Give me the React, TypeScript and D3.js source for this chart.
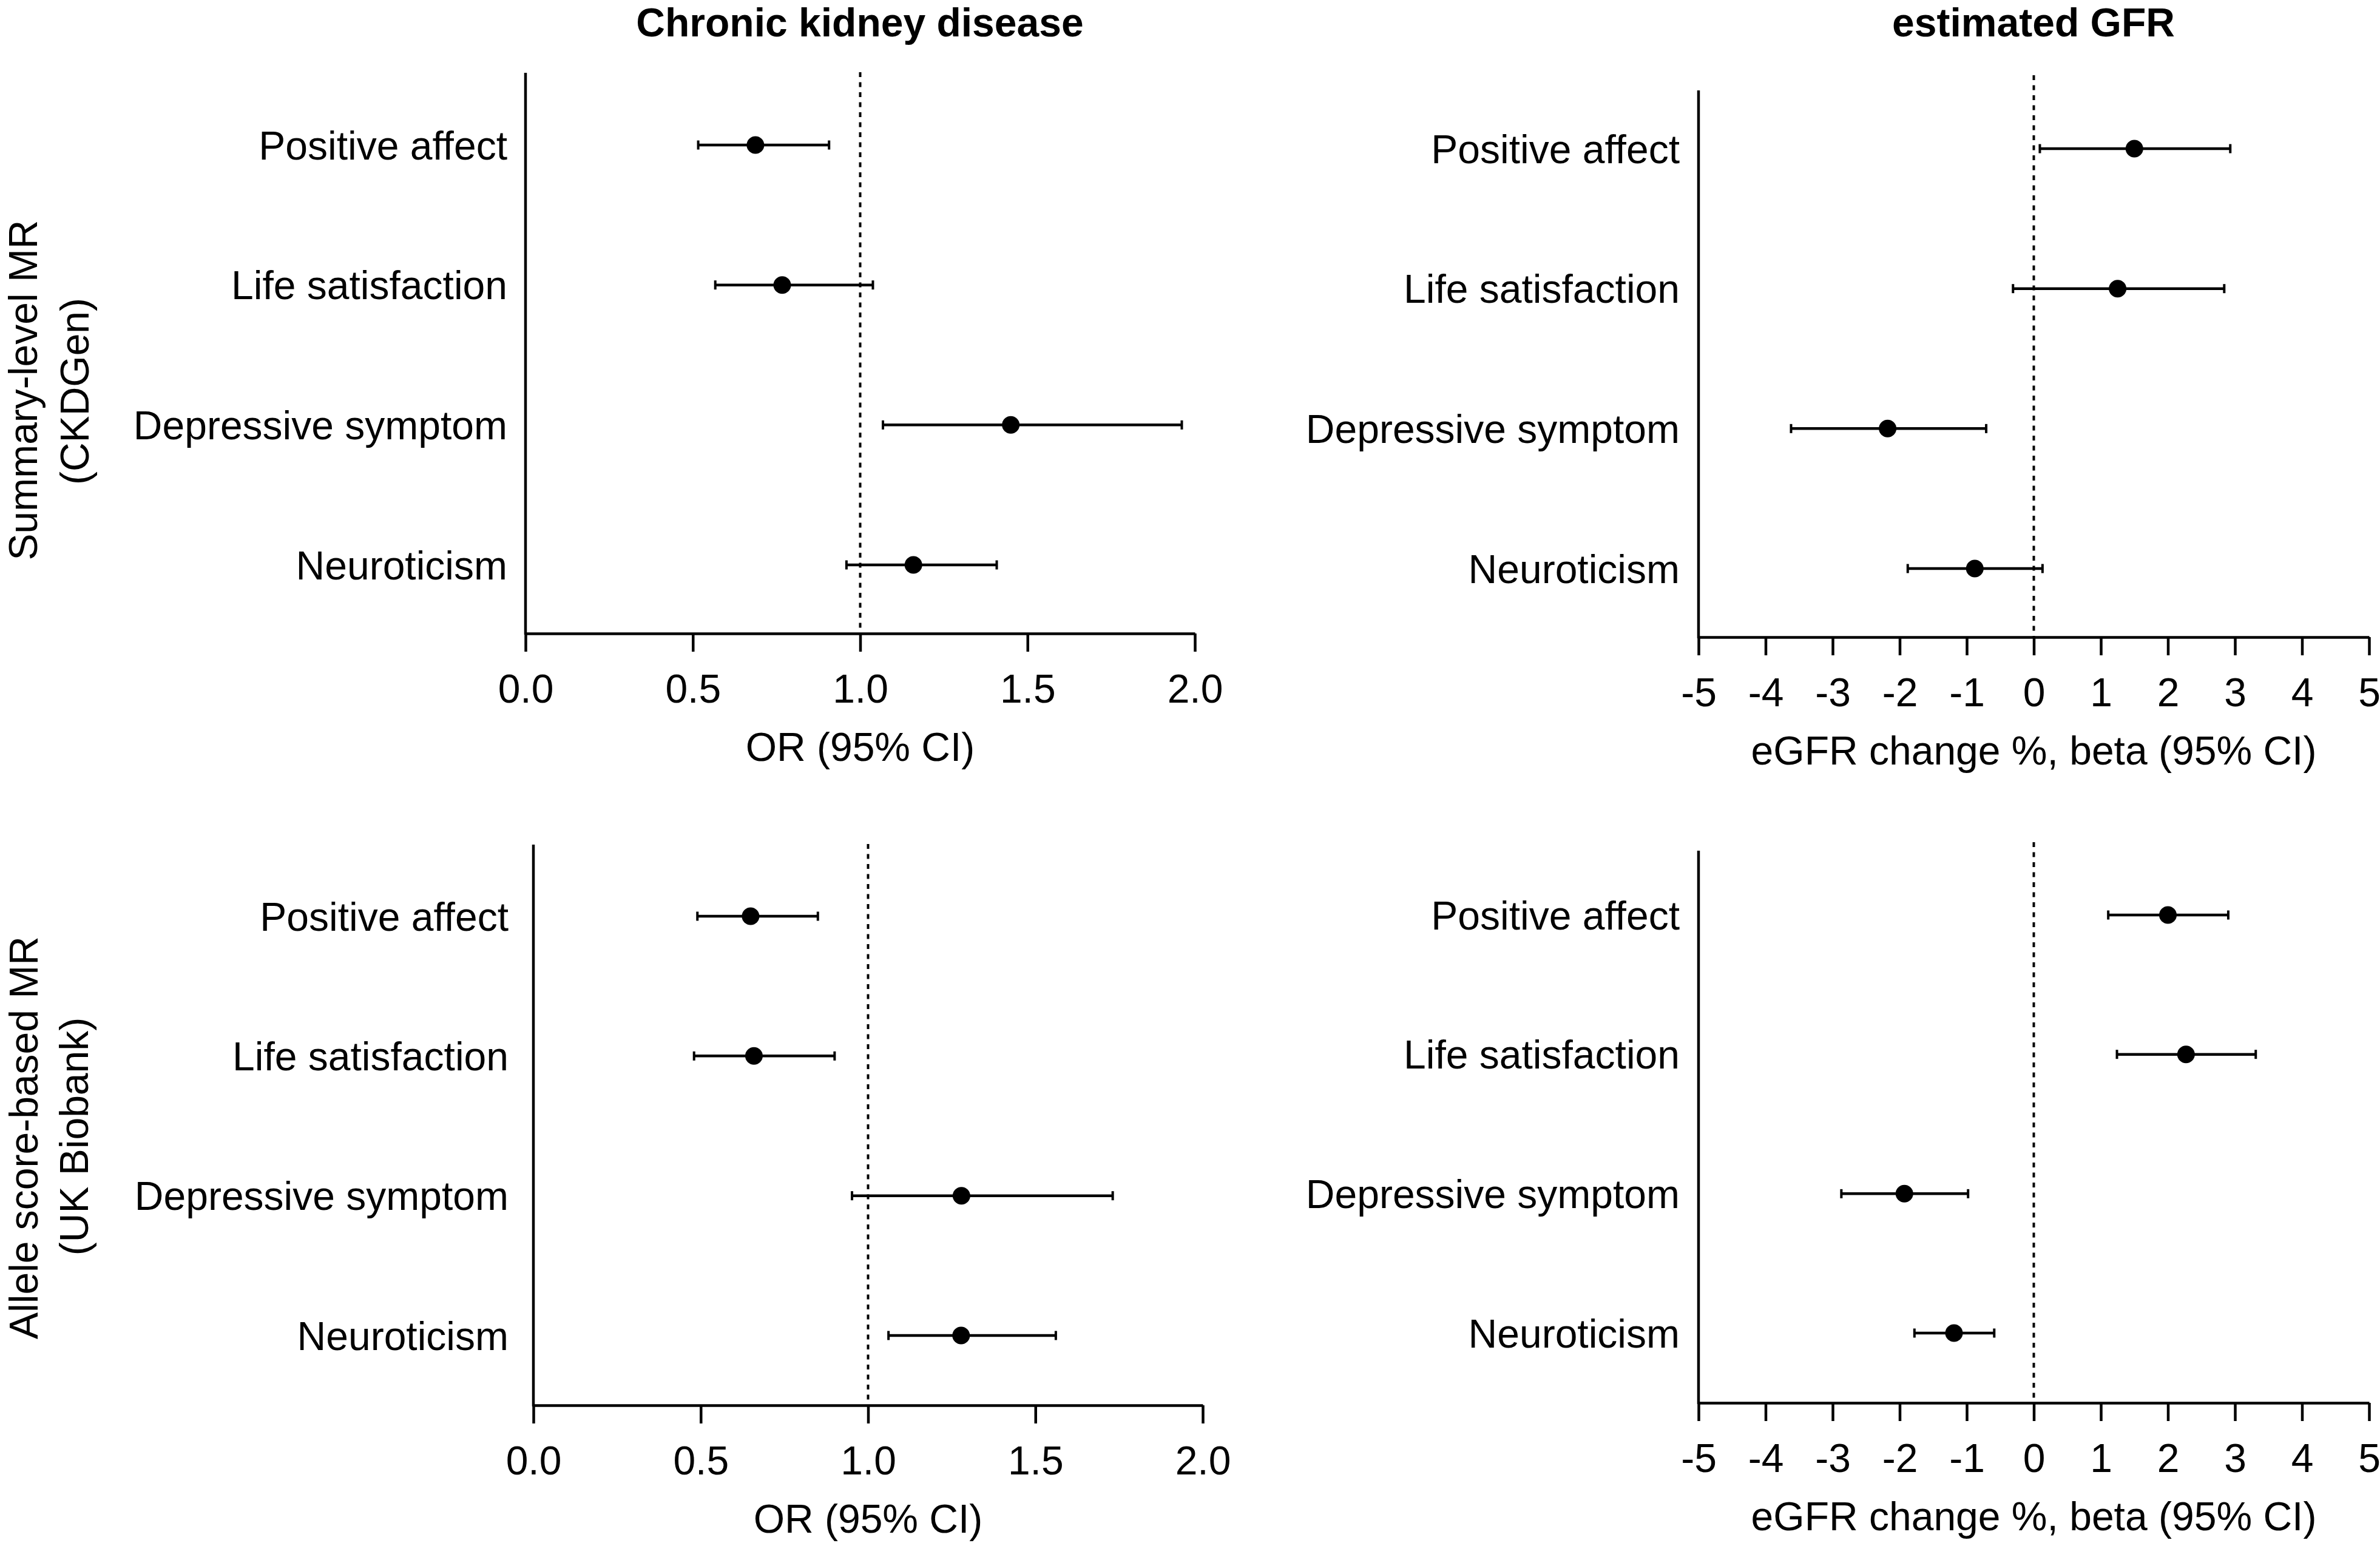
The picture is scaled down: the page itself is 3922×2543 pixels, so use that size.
import React, { useEffect, useRef } from "react";
import * as d3 from "d3";

const WIDTH = 3922;
const HEIGHT = 2543;
const FONT = "'Liberation Sans', Arial, Helvetica, sans-serif";
const FONT_SIZE = 66;

const CATEGORIES = ["Positive affect", "Life satisfaction", "Depressive symptom", "Neuroticism"];

// CKD, summary-level MR (CKDGen): OR (95% CI)
const CKD_SUMMARY_EST = [0.687, 0.767, 1.45, 1.159];
const CKD_SUMMARY_LO = [0.516, 0.567, 1.068, 0.959];
const CKD_SUMMARY_HI = [0.907, 1.038, 1.961, 1.408];

// eGFR, summary-level MR (CKDGen): beta (95% CI)
const EGFR_SUMMARY_EST = [1.5, 1.25, -2.18, -0.88];
const EGFR_SUMMARY_LO = [0.09, -0.31, -3.62, -1.88];
const EGFR_SUMMARY_HI = [2.93, 2.84, -0.71, 0.13];

// CKD, allele score-based MR (UK Biobank)
const CKD_UKB_EST = [0.649, 0.659, 1.279, 1.278];
const CKD_UKB_LO = [0.49, 0.48, 0.952, 1.061];
const CKD_UKB_HI = [0.85, 0.9, 1.731, 1.561];

// eGFR, allele score-based MR (UK Biobank)
const EGFR_UKB_EST = [2.0, 2.27, -1.93, -1.19];
const EGFR_UKB_LO = [1.11, 1.24, -2.87, -1.78];
const EGFR_UKB_HI = [2.9, 3.31, -0.98, -0.59];

const OR_TICKS = [0, 0.5, 1, 1.5, 2];
const BETA_TICKS = [-5, -4, -3, -2, -1, 0, 1, 2, 3, 4, 5];

const OR_LABEL = "OR (95% CI)";
const BETA_LABEL = "eGFR change %, beta (95% CI)";

interface PanelProps {
  est: number[];
  lo: number[];
  hi: number[];
  domain: [number, number];
  ticks: number[];
  fmt: (d: number) => string;
  refValue: number;
  xLabel: string;
  x0: number;
  x1: number;
  axisY: number;
  axisTop: number;
  dashTop: number;
  rowTop: number;
  rowBottom: number;
  labelRight: number;
}

const Panel: React.FC<PanelProps> = (p) => {
  const gRef = useRef<SVGGElement | null>(null);

  useEffect(() => {
    const g = d3.select(gRef.current);
    g.selectAll("*").remove();

    const x = d3.scaleLinear().domain(p.domain).range([p.x0, p.x1]);
    const y = d3.scalePoint<string>().domain(CATEGORIES).range([p.rowTop, p.rowBottom]);

    // reference line
    g.append("line")
      .attr("x1", x(p.refValue))
      .attr("x2", x(p.refValue))
      .attr("y1", p.dashTop)
      .attr("y2", p.axisY)
      .attr("stroke", "#000")
      .attr("stroke-width", 4)
      .attr("stroke-dasharray", "8,8.5");

    // y axis line
    g.append("line")
      .attr("x1", p.x0)
      .attr("x2", p.x0)
      .attr("y1", p.axisTop)
      .attr("y2", p.axisY + 2)
      .attr("stroke", "#000")
      .attr("stroke-width", 4.5);

    // x axis
    const xAxis = d3
      .axisBottom(x)
      .tickValues(p.ticks)
      .tickSize(30)
      .tickSizeOuter(0)
      .tickPadding(37)
      .tickFormat((d: any) => p.fmt(d as number));

    const ax = g.append("g").attr("transform", `translate(0,${p.axisY})`).call(xAxis as any);
    ax.select(".domain").attr("stroke-width", 4.5);
    ax.selectAll(".tick line").attr("stroke-width", 4.5);
    ax.selectAll(".tick text")
      .attr("font-size", FONT_SIZE)
      .attr("font-family", FONT)
      .attr("fill", "#000");

    g.append("text")
      .attr("x", (p.x0 + p.x1) / 2)
      .attr("y", p.axisY + 210)
      .attr("text-anchor", "middle")
      .attr("font-size", FONT_SIZE)
      .attr("font-family", FONT)
      .text(p.xLabel);

    // category labels
    g.selectAll(".cat")
      .data(CATEGORIES)
      .enter()
      .append("text")
      .attr("x", p.labelRight)
      .attr("y", (d) => y(d)!)
      .attr("dy", "0.36em")
      .attr("text-anchor", "end")
      .attr("font-size", FONT_SIZE)
      .attr("font-family", FONT)
      .text((d) => d);

    const rows = CATEGORIES.map((c, i) => ({ c, est: p.est[i], lo: p.lo[i], hi: p.hi[i] }));

    const bars = g.selectAll(".bar").data(rows).enter().append("g");
    bars.append("line")
      .attr("x1", (d) => x(d.lo))
      .attr("x2", (d) => x(d.hi))
      .attr("y1", (d) => y(d.c)!)
      .attr("y2", (d) => y(d.c)!)
      .attr("stroke", "#000")
      .attr("stroke-width", 4.5);
    ["lo", "hi"].forEach((k) => {
      bars.append("line")
        .attr("x1", (d: any) => x(d[k]))
        .attr("x2", (d: any) => x(d[k]))
        .attr("y1", (d) => y(d.c)! - 7.5)
        .attr("y2", (d) => y(d.c)! + 7.5)
        .attr("stroke", "#000")
        .attr("stroke-width", 4);
    });
    bars.append("circle")
      .attr("cx", (d) => x(d.est))
      .attr("cy", (d) => y(d.c)!)
      .attr("r", 14.5)
      .attr("fill", "#000");
  }, [p]);

  return <g ref={gRef} />;
};

const fmtOR = (d: number) => d3.format(".1f")(d);
const fmtBeta = (d: number) => String(d);

const App: React.FC = () => {
  return (
    <svg
      width={WIDTH}
      height={HEIGHT}
      style={{ position: "absolute", left: 0, top: 0, background: "#fff" }}
      fontFamily={FONT}
    >
      <rect width={WIDTH} height={HEIGHT} fill="#fff" />
      <text x={1417} y={60} textAnchor="middle" fontSize={FONT_SIZE} fontWeight="bold">
        Chronic kidney disease
      </text>
      <text x={3351} y={60} textAnchor="middle" fontSize={FONT_SIZE} fontWeight="bold">
        estimated GFR
      </text>

      <g transform="translate(61,643) rotate(-90)">
        <text textAnchor="middle" fontSize={FONT_SIZE}>Summary-level MR</text>
      </g>
      <g transform="translate(146,645) rotate(-90)">
        <text textAnchor="middle" fontSize={FONT_SIZE}>(CKDGen)</text>
      </g>
      <g transform="translate(62,1875) rotate(-90)">
        <text textAnchor="middle" fontSize={FONT_SIZE}>Allele score-based MR</text>
      </g>
      <g transform="translate(145,1873) rotate(-90)">
        <text textAnchor="middle" fontSize={FONT_SIZE}>(UK Biobank)</text>
      </g>

      <Panel
        est={CKD_SUMMARY_EST} lo={CKD_SUMMARY_LO} hi={CKD_SUMMARY_HI}
        domain={[0, 2]} ticks={OR_TICKS} fmt={fmtOR} refValue={1} xLabel={OR_LABEL}
        x0={866} x1={1969} axisY={1044} axisTop={120} dashTop={119}
        rowTop={239} rowBottom={931} labelRight={836}
      />
      <Panel
        est={EGFR_SUMMARY_EST} lo={EGFR_SUMMARY_LO} hi={EGFR_SUMMARY_HI}
        domain={[-5, 5]} ticks={BETA_TICKS} fmt={fmtBeta} refValue={0} xLabel={BETA_LABEL}
        x0={2799} x1={3904} axisY={1050} axisTop={149} dashTop={124}
        rowTop={245} rowBottom={937} labelRight={2768}
      />
      <Panel
        est={CKD_UKB_EST} lo={CKD_UKB_LO} hi={CKD_UKB_HI}
        domain={[0, 2]} ticks={OR_TICKS} fmt={fmtOR} refValue={1} xLabel={OR_LABEL}
        x0={879} x1={1982} axisY={2316} axisTop={1392} dashTop={1391}
        rowTop={1510} rowBottom={2201} labelRight={838}
      />
      <Panel
        est={EGFR_UKB_EST} lo={EGFR_UKB_LO} hi={EGFR_UKB_HI}
        domain={[-5, 5]} ticks={BETA_TICKS} fmt={fmtBeta} refValue={0} xLabel={BETA_LABEL}
        x0={2799} x1={3904} axisY={2312} axisTop={1402} dashTop={1388}
        rowTop={1508} rowBottom={2197} labelRight={2768}
      />
    </svg>
  );
};

export default App;
